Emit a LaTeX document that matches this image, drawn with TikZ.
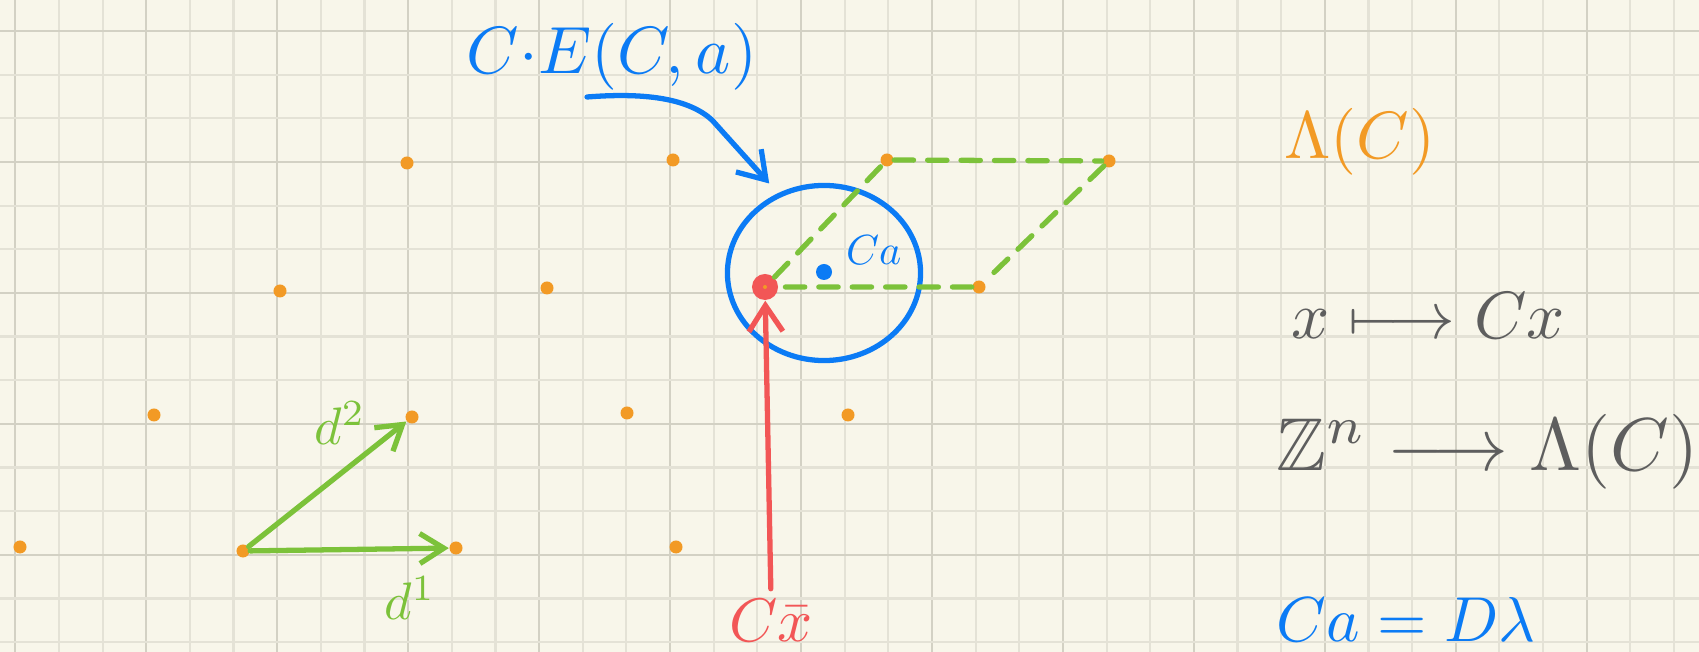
\documentclass[tikz,border=0pt]{standalone}
\usepackage{amsmath,amssymb}
\usepackage{xcolor}
\definecolor{latbg}{HTML}{F8F6EA}
\definecolor{latgrid}{HTML}{E4E2D6}
\definecolor{latgridd}{HTML}{D3D1C4}
\definecolor{latorange}{HTML}{F29A25}
\definecolor{latgreen}{HTML}{7CC23A}
\definecolor{latblue}{HTML}{0B7BF5}
\definecolor{latred}{HTML}{F25656}
\definecolor{latgray}{HTML}{5E5E5E}
\usepackage{tikz}
\usetikzlibrary{arrows.meta,positioning,shapes.geometric}
\tikzset{
  latdot/.style={circle,fill=latorange,inner sep=0pt,minimum size=1.3mm},
  latpen/.style={line width=1.5pt,line cap=round,line join=round},
  latvec/.style={latpen,latgreen,-{Straight Barb[length=2.4mm,width=3mm]}},
  latpoint/.style={latpen,-{Straight Barb[length=2.6mm,width=3.4mm]}},
  latcell/.style={latpen,latgreen,dash pattern=on 5.5pt off 4pt},
  latball/.style={ellipse,draw=latblue,latpen,inner sep=0pt,minimum width=1.93cm,minimum height=1.75cm},
  latnote/.style={inner sep=0pt,scale=1.9},
}

\begin{document}
\begin{tikzpicture}[x=0.01cm,y=-0.01cm]
 % squared paper
\useasboundingbox (0,0) rectangle (1699,652);
\fill[latbg] (0,0) rectangle (1699,652);
\foreach \i in {0,...,38}{
  \pgfmathtruncatemacro{\k}{mod(\i,3)}
  \ifnum\k=0 \def\gc{latgridd}\else\def\gc{latgrid}\fi
  \draw[\gc,line width=0.6pt] (15.3+43.65*\i,0) -- ++(0,652);
}
\foreach \j in {0,...,14}{
  \pgfmathtruncatemacro{\k}{mod(\j,3)}
  \ifnum\k=0 \def\gc{latgridd}\else\def\gc{latgrid}\fi
  \draw[\gc,line width=0.6pt] (0,31+43.65*\j) -- ++(1699,0);
}
 % lattice points
\foreach \x/\y/\n in {407/163/pa1,673/160/pa2,887/160/pa3,1109/161/pa4,
  280/291/pb1,547/288/pb2,765/287/pb3,979/287/pb4,
  154/415/pc1,412/417/pc2,627/413/pc3,848/415/pc4,
  20/547/pd1,243/551/pd2,456/548/pd3,676/547/pd4}
  \node[latdot] (\n) at (\x,\y) {};
 % basis vectors
\draw[latvec] (pd2) -- (pd3);
\draw[latvec] (pd2) -- (pc2);
\node[latnote,latgreen,scale=0.79] (d1lab) at (410,598) {$d^1$};
\node[latnote,latgreen,scale=0.79] (d2lab) at (340,423) {$d^2$};
 % ellipsoid and closest point
\node[latball] (ball) at (824,273) {};
\node[circle,fill=latred,inner sep=0pt,minimum size=2.6mm] (cxbar) at (pb3) {};
\node[latdot,minimum size=0.4mm] at (pb3) {};
\draw[latcell] (cxbar) -- (pa3) -- (pa4) -- (pb4) -- (cxbar);
\node[circle,fill=latblue,inner sep=0pt,minimum size=1.6mm] (ca) at (824,272) {};
\node[latnote,latblue,scale=0.63,above right=0mm and 1.5mm of ca] (calab) {$Ca$};
\node[latnote,latblue] (celab) at (612,57) {$C{\cdot}E(C,a)$};
\coordinate (cetail) at (587,97);
\draw[latpoint,latblue,shorten >=0.13cm] (cetail) .. controls (650,92) and (690,100) .. (712,120) -- (ball.120);
\node[latnote,latred,scale=0.92] (cxlab) at (771,621) {$C\bar{x}$};
\draw[latpoint,latred,shorten <=1mm] (cxlab.north) -- (cxbar);
 % maps
\node[latnote,latorange,anchor=west] (lamc) at (1283,142) {$\Lambda(C)$};
\node[latnote,latgray,anchor=west] (map1) at (1290,316) {$x\longmapsto Cx$};
\node[latnote,latgray,anchor=west,scale=1.12] (map2) at (1275,452) {$\mathbb{Z}^n\longrightarrow\Lambda(C)$};
\node[latnote,latblue,anchor=west,scale=0.95] (caeq) at (1275,619) {$Ca=D\lambda$};
\end{tikzpicture}
\end{document}
